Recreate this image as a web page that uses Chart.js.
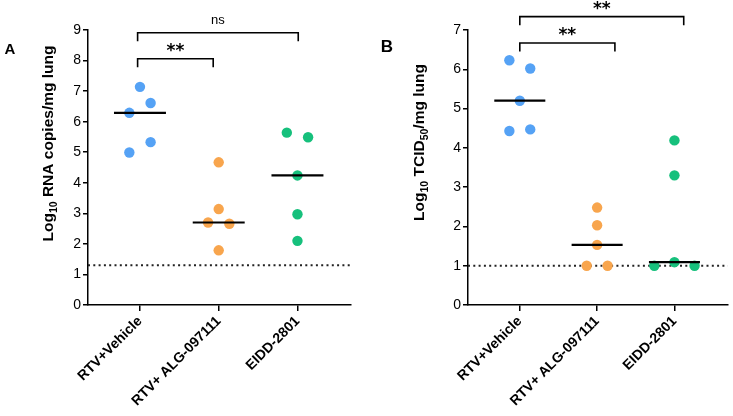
<!DOCTYPE html>
<html><head><meta charset="utf-8">
<script src="https://cdn.jsdelivr.net/npm/chart.js@4.4.1/dist/chart.umd.min.js"></script>
<style>
html,body{margin:0;padding:0;background:#fff;}
#wrap{position:relative;width:733px;height:416px;overflow:hidden;}
canvas{position:absolute;top:0;}
#cA{left:0;} #cB{left:366px;}
</style></head><body>
<div id="wrap"><canvas id="cA" width="366" height="416"></canvas><canvas id="cB" width="367" height="416"></canvas></div>
<script>
const categories = ['RTV+Vehicle', 'RTV+ ALG-097111', 'EIDD-2801'];

// Panel A: Log10 RNA copies/mg lung
const rnaVehicle = [7.14, 6.61, 6.29, 5.33, 4.99];
const rnaAlg = [4.67, 3.14, 2.70, 2.66, 1.79];
const rnaEidd = [5.64, 5.49, 4.24, 2.97, 2.10];
const rnaLimit = 1.3;
const rnaMax = 9;

// Panel B: Log10 TCID50/mg lung
const tcidVehicle = [6.23, 6.02, 5.20, 4.43, 4.47];
const tcidAlg = [2.48, 2.03, 1.53, 1.0, 1.0];
const tcidEidd = [4.19, 3.30, 1.09, 1.0, 1.0];
const tcidLimit = 1.0;
const tcidMax = 7;

// horizontal spread of dots within each group (category units)
const rnaSpread = [[0, 0.135, -0.135, 0.135, -0.135], [0, 0, -0.135, 0.135, 0], [-0.135, 0.135, 0, 0, 0]];
const tcidSpread = [[-0.135, 0.135, 0, -0.135, 0.135], [0, 0, 0, -0.135, 0.135], [0, 0, 0, -0.26, 0.26]];

// significance brackets (category index from/to, height in axis units)
const rnaBrackets = [{from: -0.03, to: 2.01, y: 8.91, label: 'ns'}, {from: -0.03, to: 0.93, y: 8.06, label: '**'}];
const tcidBrackets = [{from: 0, to: 2.12, y: 7.34, label: '**'}, {from: 0, to: 1.23, y: 6.67, label: '**'}];

const groupColors = ['#55a2f5', '#f8a54d', '#16c07c'];

Chart.defaults.font.family = "'Liberation Sans', Arial, sans-serif";
Chart.defaults.color = '#000';

function median(arr) {
  const s = arr.slice().sort((a, b) => a - b);
  const m = Math.floor(s.length / 2);
  return s.length % 2 ? s[m] : (s[m - 1] + s[m]) / 2;
}

const decoPlugin = {
  id: 'deco',
  afterDraw(chart, args, opts) {
    const ctx = chart.ctx;
    const xs = chart.scales.x, ys = chart.scales.y;
    ctx.save();
    ctx.fillStyle = '#000';
    // panel letter
    ctx.font = 'bold ' + opts.letterSize + "px 'Liberation Sans', Arial";
    ctx.textAlign = 'center';
    ctx.textBaseline = 'middle';
    ctx.fillText(opts.letter, opts.letterX, opts.letterY);
    // y title with subscripts
    ctx.translate(opts.titleX, opts.titleY);
    ctx.rotate(-Math.PI / 2);
    ctx.textAlign = 'left';
    ctx.textBaseline = 'alphabetic';
    const big = "bold 15.5px 'Liberation Sans', Arial";
    const small = "bold 10.5px 'Liberation Sans', Arial";
    let total = 0;
    opts.title.forEach(p => { ctx.font = p.sub ? small : big; total += ctx.measureText(p.t).width; });
    let cx = -total / 2;
    opts.title.forEach(p => {
      ctx.font = p.sub ? small : big;
      ctx.fillText(p.t, cx, p.sub ? 4 : 0);
      cx += ctx.measureText(p.t).width;
    });
    ctx.restore();
    // brackets
    ctx.save();
    ctx.strokeStyle = '#000';
    ctx.lineWidth = 1.6;
    ctx.fillStyle = '#000';
    opts.brackets.forEach(b => {
      const x1 = xs.getPixelForValue(b.from), x2 = xs.getPixelForValue(b.to);
      const y = ys.getPixelForValue(b.y);
      ctx.beginPath();
      ctx.moveTo(x1, y + 8.5); ctx.lineTo(x1, y); ctx.lineTo(x2, y); ctx.lineTo(x2, y + 8.5);
      ctx.stroke();
      ctx.textAlign = 'center';
      if (b.label === 'ns') {
        ctx.font = "13px 'Liberation Sans', Arial";
        ctx.textBaseline = 'middle';
        ctx.fillText(b.label, (x1 + x2) / 2, y - 12.5);
      } else {
        ctx.font = "bold 17px 'DejaVu Sans', sans-serif";
        ctx.textBaseline = 'middle';
        ctx.fillText(b.label, (x1 + x2) / 2, y - 7);
      }
    });
    ctx.restore();
  }
};

function makeChart(id, groups, spread, limit, ymax, xmin, xmax, yWidth, padRight, deco) {
  const datasets = [];
  groups.forEach((vals, g) => {
    const m = median(vals);
    datasets.push({
      type: 'line', data: [{x: g - 0.33, y: m}, {x: g + 0.33, y: m}],
      borderColor: '#000', borderWidth: 2.2, pointRadius: 0, order: 0, clip: false
    });
  });
  groups.forEach((vals, g) => {
    datasets.push({
      type: 'scatter', data: vals.map((v, i) => ({x: g + spread[g][i], y: v})),
      backgroundColor: groupColors[g], borderWidth: 0, pointRadius: 5.2, order: 1
    });
  });
  datasets.push({
    type: 'line', data: [{x: xmin, y: limit}, {x: xmax, y: limit}],
    borderColor: '#222', borderWidth: 2, borderDash: [2, 3.3], pointRadius: 0, order: 2
  });
  return new Chart(document.getElementById(id), {
    type: 'scatter',
    data: {datasets},
    options: {
      responsive: false, animation: false, devicePixelRatio: 1,
      layout: {padding: {top: 30, right: padRight, left: 0, bottom: 0}},
      plugins: {legend: {display: false}, tooltip: {enabled: false}, deco},
      scales: {
        x: {
          type: 'linear', min: xmin, max: xmax,
          afterBuildTicks: s => { s.ticks = categories.map((c, i) => ({value: i})); },
          afterFit: s => { s.height = 111; },
          ticks: {
            callback: v => categories[v], autoSkip: false, maxRotation: 45, minRotation: 45,
            font: {size: 14, weight: 'bold'}, color: '#000', padding: 2
          },
          grid: {drawOnChartArea: false, drawTicks: true, tickLength: 6, color: '#000', lineWidth: 1.5},
          border: {display: true, color: '#000', width: 1.5}
        },
        y: {
          min: 0, max: ymax,
          afterFit: s => { s.width = yWidth; },
          ticks: {stepSize: 1, font: {size: 14}, color: '#000', padding: 2},
          grid: {drawOnChartArea: false, drawTicks: true, tickLength: 5, color: '#000', lineWidth: 1.5},
          border: {display: true, color: '#000', width: 1.5}
        }
      }
    },
    plugins: [decoPlugin]
  });
}

makeChart('cA', [rnaVehicle, rnaAlg, rnaEidd], rnaSpread, rnaLimit, rnaMax, -0.66, 2.68, 88, 15, {
  letter: 'A', letterX: 10, letterY: 50, letterSize: 15,
  titleX: 53, titleY: 143.5,
  title: [{t: 'Log'}, {t: '10', sub: true}, {t: ' RNA copies/mg lung'}],
  brackets: rnaBrackets
});
makeChart('cB', [tcidVehicle, tcidAlg, tcidEidd], tcidSpread, tcidLimit, tcidMax, -0.67, 2.69, 102, 1, {
  letter: 'B', letterX: 21, letterY: 47, letterSize: 17,
  titleX: 58, titleY: 142.5,
  title: [{t: 'Log'}, {t: '10', sub: true}, {t: ' TCID'}, {t: '50', sub: true}, {t: '/mg lung'}],
  brackets: tcidBrackets
});
</script>
</body></html>
